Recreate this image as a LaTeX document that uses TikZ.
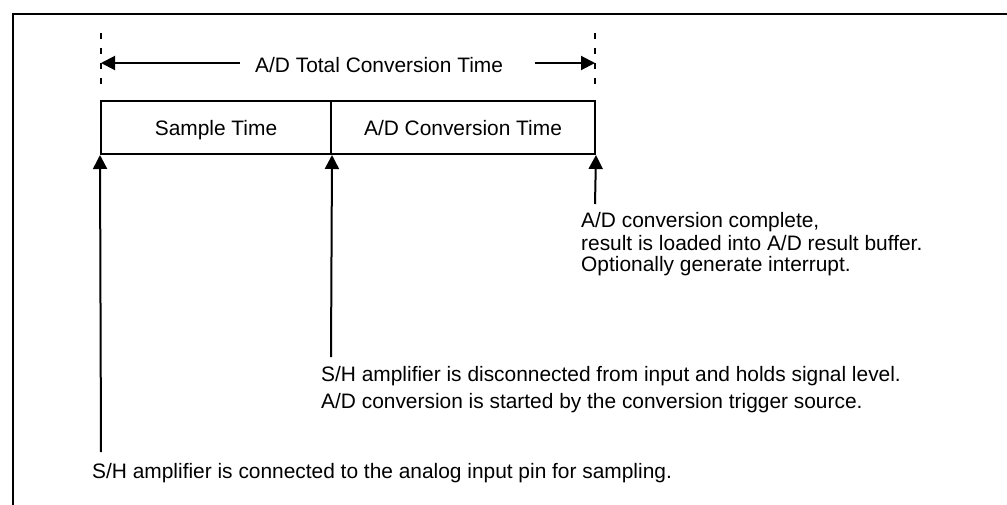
\documentclass[tikz,border=0pt]{standalone}
\usepackage{fontspec}
\setmainfont{Liberation Sans}
\usetikzlibrary{arrows.meta}
\begin{document}
\begin{tikzpicture}[x=1pt,y=-1pt,
  txt/.style={inner sep=0pt,font=\fontsize{20.9}{25}\selectfont},
  cell/.style={draw,line width=2pt,inner sep=0pt,minimum height=53pt,text height=15pt,text depth=0pt,font=\fontsize{20.9}{25}\selectfont},
  arr/.style={line width=2pt,-{Triangle[length=14pt,width=14pt]}},
  dim/.style={line width=1.8pt,dash pattern=on 6pt off 9pt}]
\useasboundingbox (0,0) rectangle (1007,504);
% outer frame
\draw[line width=2pt] (13,510) -- (13,14) -- (1007,14);
% cells
\node[cell,minimum width=230pt] (sample) at (216,127.5) {Sample Time};
\node[cell,minimum width=264pt] (conv) at (463,127.5) {A/D Conversion Time};
% total time dimension
\coordinate (dtop1) at (101,33);
\coordinate (dbot1) at (101,90);
\coordinate (dtop2) at (595,33);
\coordinate (dbot2) at (595,90);
\draw[dim] (dtop1) -- (dbot1);
\draw[dim] (dtop2) -- (dbot2);
\node[txt,anchor=base west] (total) at (255,72.5) {A/D Total Conversion Time};
\coordinate (la) at (240,63);
\coordinate (lb) at (101,63);
\coordinate (ra) at (535,63);
\coordinate (rb) at (595,63);
\draw[arr] (la) -- (lb);
\draw[arr] (ra) -- (rb);
% event arrows
\coordinate (e1) at (101,452);
\coordinate (e2) at (331,357);
\coordinate (e3) at (595,204);
\draw[arr] (e1) -- (sample.south west);
\draw[arr] (e2) -- (sample.south east);
\draw[arr] (e3) -- (conv.south east);
% labels
\node[txt,anchor=base west] (c1) at (581,227.3) {A/D conversion complete,};
\node[txt,anchor=base west] (c2) at (581,250) {result is loaded into A/D result buffer.};
\node[txt,anchor=base west] (c3) at (581,271.7) {Optionally generate interrupt.};
\node[txt,anchor=base west] (m1) at (321,381.7) {S/H amplifier is disconnected from input and holds signal level.};
\node[txt,anchor=base west] (m2) at (321,408) {A/D conversion is started by the conversion trigger source.};
\node[txt,anchor=base west] (b1) at (92,478) {S/H amplifier is connected to the analog input pin for sampling.};
\end{tikzpicture}
\end{document}
